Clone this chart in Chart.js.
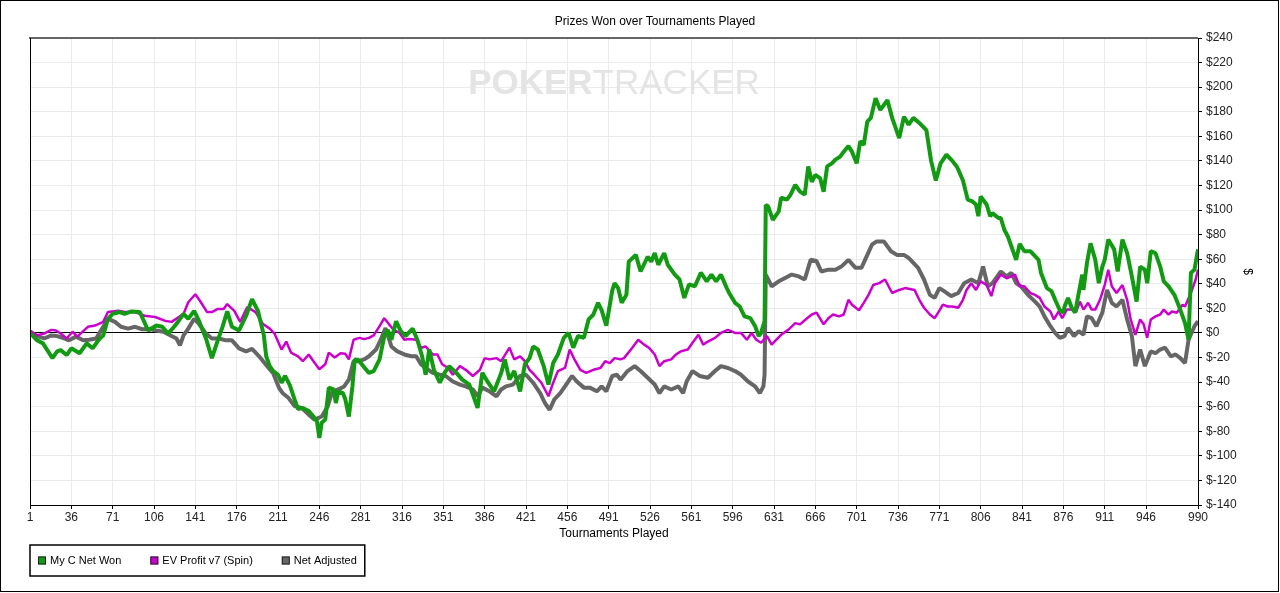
<!DOCTYPE html>
<html>
<head>
<meta charset="utf-8">
<title>Prizes Won over Tournaments Played</title>
<script src="https://cdn.jsdelivr.net/npm/chart.js@4.4.1/dist/chart.umd.min.js"></script>
<style>
  html, body { margin: 0; padding: 0; background: #fff; }
  canvas { display: block; }
</style>
</head>
<body>
<canvas id="prizesChart" width="1280" height="593"></canvas>
<script>
// tick labels
const xTicks = [1, 36, 71, 106, 141, 176, 211, 246, 281, 316, 351, 386, 421, 456, 491,
    526, 561, 596, 631, 666, 701, 736, 771, 806, 841, 876, 911, 946, 990];
const yTicks = [-140, -120, -100, -80, -60, -40, -20, 0, 20, 40, 60, 80, 100, 120, 140,
    160, 180, 200, 220, 240];

// My C Net Won (tournament #, $)
const netWonGames = [
    1, 7, 12, 20, 24, 27, 32, 36, 43, 49,
    54, 60, 63, 67, 71, 77, 81, 87, 94, 101,
    108, 113, 118, 123, 127, 131, 135, 140, 144, 150,
    155, 160, 164, 168, 172, 178, 184, 189, 194, 199,
    201, 204, 207, 211, 214, 217, 221, 225, 228, 232,
    237, 241, 244, 246, 248, 251, 254, 258, 260, 262,
    266, 268, 271, 274, 276, 279, 284, 288, 292, 297,
    301, 304, 307, 311, 315, 319, 325, 329, 333, 336,
    339, 343, 348, 352, 356, 362, 367, 373, 380, 384,
    389, 394, 400, 403, 407, 411, 416, 420, 424, 427,
    431, 436, 440, 444, 448, 453, 457, 461, 465, 470,
    474, 478, 482, 485, 489, 494, 496, 499, 502, 506,
    508, 514, 518, 524, 527, 530, 533, 538, 541, 547,
    551, 555, 559, 564, 569, 574, 578, 582, 586, 591,
    593, 598, 602, 606, 611, 615, 618, 620, 623, 624,
    626, 630, 635, 637, 642, 645, 649, 653, 657, 660,
    663, 666, 670, 673, 676, 680, 683, 687, 690, 694,
    697, 701, 704, 707, 710, 713, 717, 721, 727, 731,
    737, 741, 745, 749, 755, 760, 764, 768, 772, 777,
    782, 786, 791, 795, 799, 802, 804, 806, 811, 814,
    816, 821, 823, 826, 829, 832, 836, 839, 843, 848,
    852, 855, 857, 862, 866, 869, 873, 876, 877, 880,
    883, 886, 889, 892, 893, 896, 899, 903, 906, 909,
    911, 914, 919, 922, 926, 930, 934, 938, 941, 945,
    947, 950, 954, 958, 961, 965, 970, 974, 977, 979,
    982, 984, 987, 990
];
const netWonDollars = [
    0, -6, -8.5, -20.5, -15, -14, -18, -12.5, -16.5, -8.5,
    -12.5, -4.5, -2, 11.5, 15.5, 17, 15.5, 17.5, 17, 2,
    6, 5, -0.5, 5, 10, 15.5, 11.5, 18, 10, -4.5,
    -20.5, -6, 5, 17.5, 5, 2, 14, 27.5, 18, -2,
    -19, -27, -31, -34, -40.5, -35, -42.5, -54, -62, -61,
    -63.5, -68, -72, -85.5, -73, -70.5, -44.5, -46, -57, -47.5,
    -49, -54, -68, -43.5, -21.5, -22, -28, -32.5, -31, -21.5,
    -2.5, 2.5, -5.5, 9.5, 1.5, -2.5, 3.5, -5.5, -19, -34,
    -13.5, -30, -40.5, -32.5, -27, -32.5, -38, -42, -61, -32.5,
    -40.5, -47.5, -32.5, -21.5, -38, -31, -47.5, -25.5, -20.5, -11,
    -13.5, -27, -42, -24.5, -17.5, -4, 0, -12, -2.5, -4,
    11, 15, 24.5, 18.5, 6, 34.5, 40.5, 36.5, 24.5, 31,
    58, 63.5, 50, 62, 58, 65, 55.5, 65, 55.5, 47.5,
    43.5, 28.5, 39.5, 38, 49, 42, 47.5, 42, 47.5, 36.5,
    32.5, 24.5, 21.5, 13.5, 12, 5.5, -2.5, 0, 9.5, 104,
    103, 92, 99, 110, 108.5, 112.5, 120.5, 115, 112.5, 135.5,
    123, 128.5, 126, 115, 135.5, 138, 141, 143.5, 147.5, 152,
    147.5, 138, 156, 153, 172, 175, 191, 181.5, 189.5, 175,
    158.5, 176, 169.5, 175, 170, 165, 140, 124, 138, 145,
    140, 135, 124, 108.5, 107, 104.5, 95, 111, 104.5, 95,
    97.5, 93.5, 93.5, 84, 78.5, 70.5, 59.5, 72.5, 66.5, 66.5,
    62.5, 59.5, 49, 36.5, 34, 27, 18.5, 16.5, 21.5, 28.5,
    20.5, 16.5, 32.5, 47.5, 35, 57, 73, 59.5, 40.5, 54,
    59.5, 76, 68, 50, 76, 65, 46, 25.5, 54, 51.5,
    40.5, 66.5, 65, 54, 42, 38, 31, 21.5, 13.5, 8,
    -5.5, 49, 51.5, 68
];

// EV Profit v7 (Spin)
const evProfitGames = [
    1, 7, 13, 19, 23, 27, 32, 37, 41, 50,
    56, 63, 67, 76, 81, 90, 98, 107, 115, 121,
    127, 131, 135, 141, 145, 151, 155, 160, 165, 168,
    174, 179, 185, 192, 198, 204, 208, 214, 218, 222,
    228, 232, 237, 241, 246, 251, 254, 259, 264, 268,
    271, 275, 280, 284, 288, 292, 297, 301, 305, 309,
    314, 318, 322, 328, 332, 336, 342, 346, 350, 355,
    359, 365, 370, 376, 382, 386, 390, 396, 400, 407,
    411, 416, 420, 424, 428, 434, 440, 444, 448, 454,
    458, 462, 467, 472, 478, 484, 488, 492, 496, 501,
    504, 511, 516, 521, 525, 530, 534, 538, 544, 548,
    552, 558, 562, 567, 571, 575, 581, 586, 592, 598,
    603, 608, 612, 616, 620, 625, 629, 633, 637, 643,
    649, 653, 659, 663, 667, 673, 677, 681, 686, 690,
    694, 697, 703, 707, 711, 715, 720, 725, 731, 737,
    742, 750, 754, 758, 763, 767, 770, 774, 778, 782,
    787, 791, 794, 798, 802, 806, 811, 815, 818, 823,
    828, 832, 835, 839, 843, 848, 852, 856, 860, 865,
    868, 872, 875, 879, 883, 887, 890, 893, 897, 900,
    903, 907, 911, 914, 917, 921, 926, 930, 933, 937,
    941, 944, 947, 950, 954, 958, 961, 965, 968, 972,
    977, 979, 984, 988, 990
];
const evProfitDollars = [
    2, -2, -0.5, 2.5, 2, -0.5, -4.5, 1, -3, 5,
    6, 9, 17, 18, 17, 17, 14, 13, 10, 9,
    13, 15.5, 25, 31.5, 26, 17, 17, 19.5, 19.5, 23.5,
    18, 9, 21, 17, 7.5, 3.5, -0.5, -13.5, -7, -16,
    -19, -23, -17.5, -23, -29.5, -25.5, -16, -20, -16.5, -17,
    -21.5, -5.5, -4, -5, -4, -2, 5.5, 12, 7, 2.5,
    0, -5.5, -5, -5.5, -12, -11, -17.5, -17.5, -25.5, -28.5,
    -34, -27, -30, -35, -30, -20.5, -21.5, -20.5, -23, -12,
    -21.5, -19, -23, -30, -34, -40.5, -51.5, -40.5, -31, -28.5,
    -13.5, -21.5, -30, -32.5, -30, -28.5, -23, -24.5, -20.5, -21.5,
    -20.5, -12, -5.5, -9.5, -12, -17.5, -27, -23, -21.5, -17.5,
    -15, -13.5, -8, -1.5, -9.5, -7, -4, 0, 2.5, 0,
    0, -5.5, 0, -5.5, -8, -2.5, -9.5, -5.5, -1.5, 2.5,
    8, 7, 12, 15, 16.5, 7, 12, 15, 13.5, 15,
    27, 23, 18.5, 24.5, 31, 39, 40.5, 43.5, 32.5, 35,
    36.5, 35, 27, 20.5, 15, 12, 16.5, 23, 21.5, 21.5,
    20.5, 27, 35, 40.5, 35, 42, 39, 30, 40.5, 47.5,
    44.5, 46, 47.5, 38, 38, 32.5, 31, 28.5, 21.5, 17.5,
    11, 17.5, 12, 19, 19, 17.5, 25.5, 19, 24.5, 19,
    19, 27, 39, 51.5, 38, 32.5, 39, 27, 11, -1.5,
    11, 7, -4, 11, 13.5, 15, 19, 15, 17.5, 16.5,
    23, 21.5, 32.5, 43.5, 51.5
];

// Net Adjusted
const netAdjGames = [
    1, 7, 13, 19, 24, 30, 34, 40, 46, 51,
    57, 63, 67, 73, 78, 84, 90, 96, 103, 108,
    114, 120, 125, 128, 131, 135, 140, 144, 150, 155,
    161, 167, 172, 178, 184, 189, 195, 201, 207, 212,
    215, 220, 225, 231, 237, 242, 248, 253, 257, 262,
    267, 271, 275, 279, 284, 288, 294, 298, 302, 307,
    312, 318, 324, 328, 332, 336, 342, 348, 353, 359,
    365, 370, 376, 380, 384, 390, 396, 400, 404, 410,
    416, 421, 427, 433, 437, 441, 445, 450, 455, 460,
    464, 470, 475, 481, 485, 489, 494, 498, 501, 507,
    513, 518, 524, 530, 534, 538, 544, 550, 554, 557,
    562, 568, 575, 581, 586, 592, 598, 603, 609, 615,
    619, 622, 623, 624, 629, 635, 640, 646, 652, 657,
    662, 667, 671, 677, 683, 688, 694, 700, 705, 710,
    714, 718, 724, 730, 735, 741, 745, 749, 753, 758,
    763, 767, 771, 775, 781, 787, 792, 798, 804, 808,
    812, 816, 823, 828, 832, 836, 840, 846, 852, 856,
    860, 865, 869, 873, 877, 880, 885, 889, 893, 896,
    900, 904, 909, 913, 917, 921, 926, 930, 934, 937,
    941, 945, 950, 954, 958, 962, 967, 971, 975, 979,
    982, 987, 990
];
const netAdjDollars = [
    1, -2.5, -4.5, -2, -2.5, -4.5, -6, -3, -6, -5.5,
    -4.5, 5, 11.5, 9, 5, 3.5, 5, 3, 3, 2,
    1, -2, -4.5, -10, -2, 3.5, 11.5, 7.5, -0.5, -4.5,
    -4.5, -6, -6, -12.5, -15, -13, -19, -26, -33, -45,
    -49, -53, -59.5, -61, -66.5, -70.5, -68, -60, -47.5, -46,
    -43.5, -38, -23, -23, -21.5, -19, -13.5, -5.5, 4, -11,
    -15, -17.5, -19, -19, -25.5, -28.5, -32.5, -34, -35, -39.5,
    -42, -43.5, -46, -51.5, -44.5, -47.5, -51.5, -46, -43.5, -42,
    -35, -34, -40.5, -49, -57, -62.5, -54, -49, -42, -35,
    -39.5, -44.5, -44.5, -47.5, -43.5, -47.5, -35, -34, -38, -31,
    -27, -31, -36.5, -42, -49, -43.5, -46, -43.5, -49, -39.5,
    -31, -35, -36.5, -31, -27, -28.5, -31, -34, -39.5, -43.5,
    -49, -43.5, -34, 47.5, 38, 42, 44.5, 47.5, 46, 43.5,
    59.5, 58.5, 50, 51.5, 51.5, 54, 59.5, 53, 53, 63.5,
    72, 74.5, 74.5, 66.5, 63.5, 63.5, 61, 57, 53, 43.5,
    31, 28.5, 36.5, 34, 30, 32.5, 40.5, 43.5, 40.5, 54,
    38, 40.5, 50, 46, 49, 40.5, 38, 31, 25.5, 21.5,
    13.5, 5.5, 0, -4, -2.5, 4, -2.5, 1.5, -1.5, 13.5,
    12, 5.5, 16.5, 35, 24.5, 21.5, 27, 11, -2.5, -27,
    -13.5, -27, -15, -16.5, -13.5, -12, -19, -17.5, -20.5, -24.5,
    -5.5, 5.5, 9.5
];

const FONT = "'Liberation Sans', Arial, sans-serif";

function toPoints(games, dollars) {
    return games.map((g, i) => ({ x: g, y: dollars[i] }));
}

// white page, plot frame, watermark, outer border and boxed legend
const frameBits = {
    id: 'frameBits',
    beforeDraw(chart) {
        const ctx = chart.ctx;
        ctx.save();
        ctx.fillStyle = '#fff';
        ctx.fillRect(0, 0, chart.width, chart.height);
        ctx.restore();
    },
    beforeDatasetsDraw(chart) {
        const { ctx, chartArea } = chart;
        ctx.save();
        ctx.fillStyle = '#e4e4e4';
        ctx.textBaseline = 'alphabetic';
        ctx.font = 'bold 35px ' + FONT;
        const w1 = ctx.measureText('POKER').width;
        ctx.font = '35px ' + FONT;
        const w2 = ctx.measureText('TRACKER').width;
        let x = (chartArea.left + chartArea.right) / 2 - (w1 + w2) / 2;
        ctx.font = 'bold 35px ' + FONT;
        ctx.fillText('POKER', x, 94);
        ctx.font = '35px ' + FONT;
        ctx.fillText('TRACKER', x + w1, 94);
        ctx.restore();
    },
    afterDraw(chart) {
        const { ctx, chartArea } = chart;
        ctx.save();
        // top edge of plot
        ctx.strokeStyle = '#666';
        ctx.lineWidth = 2;
        ctx.beginPath();
        ctx.moveTo(chartArea.left - 1, chartArea.top);
        ctx.lineTo(chartArea.right, chartArea.top);
        ctx.stroke();
        // left edge of plot
        ctx.strokeStyle = '#000';
        ctx.lineWidth = 1;
        ctx.beginPath();
        ctx.moveTo(chartArea.left + 0.5, chartArea.top);
        ctx.lineTo(chartArea.left + 0.5, chartArea.bottom);
        ctx.stroke();
        // outer border
        ctx.strokeRect(0.5, 0.5, chart.width - 2, chart.height - 2);

        // legend
        const top = 545, h = 31, left = chartArea.left;
        ctx.font = '11px ' + FONT;
        ctx.textBaseline = 'middle';
        let x = left + 8;
        const cy = top + h / 2;
        chart.data.datasets.forEach((ds, i) => {
            ctx.fillStyle = ds.borderColor;
            ctx.fillRect(x, cy - 4, 8, 8);
            ctx.strokeStyle = '#222';
            ctx.lineWidth = 1;
            ctx.strokeRect(x + 0.5, cy - 3.5, 7, 7);
            ctx.fillStyle = '#000';
            ctx.fillText(ds.label, x + 12, cy);
            x += 12 + ctx.measureText(ds.label).width;
            if (i < chart.data.datasets.length - 1) x += 29;
        });
        ctx.strokeStyle = '#000';
        ctx.lineWidth = 1.5;
        ctx.strokeRect(left, top, x + 8 - left, h);
        ctx.restore();
    }
};

new Chart(document.getElementById('prizesChart'), {
    type: 'line',
    data: {
        datasets: [
            {
                label: 'My C Net Won',
                data: toPoints(netWonGames, netWonDollars),
                borderColor: '#129a12',
                backgroundColor: '#129a12',
                borderWidth: 4
            },
            {
                label: 'EV Profit v7 (Spin)',
                data: toPoints(evProfitGames, evProfitDollars),
                borderColor: '#cc00cc',
                backgroundColor: '#cc00cc',
                borderWidth: 2.5
            },
            {
                label: 'Net Adjusted',
                data: toPoints(netAdjGames, netAdjDollars),
                borderColor: '#666666',
                backgroundColor: '#666666',
                borderWidth: 4
            }
        ]
    },
    options: {
        responsive: false,
        animation: false,
        events: [],
        elements: {
            point: { radius: 0 },
            line: { tension: 0, fill: false, borderJoinStyle: 'bevel' }
        },
        layout: { padding: { left: 30, right: 0, top: 0, bottom: 52 } },
        plugins: {
            legend: { display: false },
            tooltip: { enabled: false },
            title: {
                display: true,
                text: 'Prizes Won over Tournaments Played',
                color: '#000',
                font: { family: FONT, size: 12, weight: 'normal', lineHeight: 1.2 },
                padding: { top: 14, bottom: 9.6 }
            }
        },
        scales: {
            x: {
                type: 'linear',
                min: 1,
                max: 990,
                afterBuildTicks: scale => { scale.ticks = xTicks.map(v => ({ value: v })); },
                afterFit: scale => { scale.height = 36; },
                ticks: {
                    autoSkip: false,
                    maxRotation: 0,
                    padding: 1,
                    color: '#222',
                    font: { family: FONT, size: 12 },
                    callback: v => String(v)
                },
                grid: { color: '#ebebeb', tickColor: '#000', tickLength: 4 },
                border: { color: '#000', width: 1 },
                title: {
                    display: true,
                    text: 'Tournaments Played',
                    color: '#000',
                    font: { family: FONT, size: 12, lineHeight: 1.2 },
                    padding: { top: 0, bottom: 0 }
                }
            },
            y: {
                position: 'right',
                min: -140,
                max: 240,
                afterBuildTicks: scale => { scale.ticks = yTicks.map(v => ({ value: v })); },
                afterFit: scale => { scale.width = 82; },
                ticks: {
                    padding: 4,
                    color: '#222',
                    font: { family: FONT, size: 12 },
                    callback: v => '$' + v
                },
                grid: {
                    color: c => (c.tick && c.tick.value === 0) ? '#000' : '#ebebeb',
                    tickColor: '#000',
                    tickLength: 4
                },
                border: { color: '#000', width: 1 },
                title: {
                    display: true,
                    text: '$',
                    color: '#000',
                    font: { family: FONT, size: 12, lineHeight: 1.2 },
                    padding: { top: 25, bottom: 0 }
                }
            }
        }
    },
    plugins: [frameBits]
});
</script>
</body>
</html>
